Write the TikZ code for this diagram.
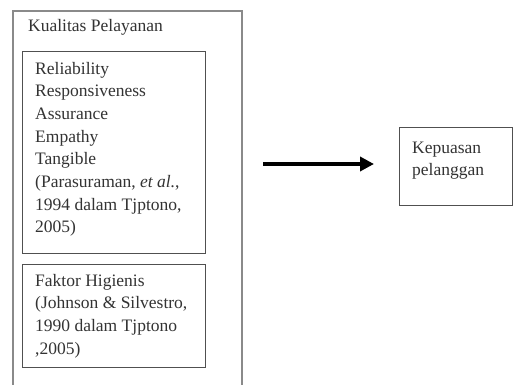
\documentclass[tikz,border=0pt]{standalone}
\usepackage{fontspec}
\setmainfont{Liberation Serif}
\usetikzlibrary{arrows.meta}
\definecolor{txtc}{HTML}{333333}
\definecolor{boxc}{HTML}{505050}
\definecolor{outc}{HTML}{8A8A8A}
\tikzset{
  boxnode/.style={draw=boxc, line width=1.4pt, inner sep=0pt, anchor=north west},
  outerbox/.style={draw=outc, line width=1.2pt},
  txt/.style={text=txtc, inner sep=0pt, anchor=base west, align=left,
    font=\fontsize{17.5}{22.7}\selectfont},
  arrowline/.style={line width=3.5pt, -{Triangle[length=14pt,width=14pt]}}
}
\begin{document}
\begin{tikzpicture}[x=1pt,y=-1pt]
\useasboundingbox[fill=white] (0,0) rectangle (515,385);
\begin{scope}
\clip (0,0) rectangle (515,385);
\draw[outerbox] (13,11) rectangle (242,392);
\node[boxnode, minimum width=183pt, minimum height=202pt] (b1) at (22,51) {};
\node[boxnode, minimum width=183pt, minimum height=103pt] (b2) at (22,264) {};
\node[boxnode, minimum width=113pt, minimum height=78pt] (k) at (399,127) {};
\end{scope}
% multi-line nodes: base anchor is the baseline of the last line
\node[txt] (title) at (28,32) {Kualitas Pelayanan};
\node[txt] (t1) at (35,232.9) {Reliability\\Responsiveness\\Assurance\\Empathy\\Tangible\\(Parasuraman, \textit{et al.},\\1994 dalam Tjptono,\\2005)};
\node[txt, font=\fontsize{17.5}{23}\selectfont] (t2) at (35,355) {Faktor Higienis\\(Johnson \& Silvestro,\\1990 dalam Tjptono\\,2005)};
\node[txt] (tk) at (412,176) {Kepuasan\\pelanggan};
\coordinate (as) at (263,164);
\coordinate (ae) at (374,164);
\draw[arrowline] (as) -- (ae);
\end{tikzpicture}
\end{document}
